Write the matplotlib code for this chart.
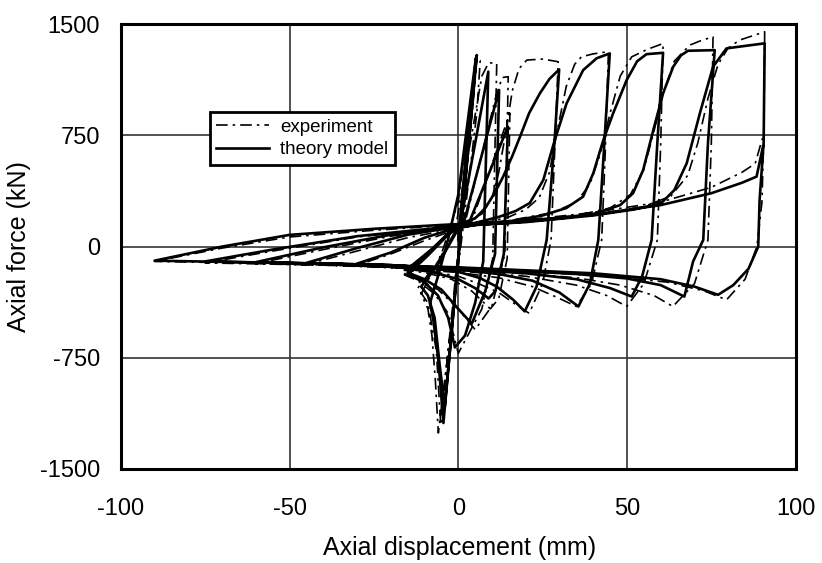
import matplotlib
matplotlib.use('Agg')
import matplotlib.pyplot as plt

plt.rcParams['font.family'] = ['Liberation Sans', 'DejaVu Sans']

# ---------------- theory model (solid), one list pair per loading cycle ----------------
th1_x = [0.0, 2.5, 5.5, -4.4, -5.9, -7.4, -8.4, -6.0, -3.0, 0.0, 5.2, 4.6, -4.0, -5.5, -7.0, -9.0, -11.0]
th1_y = [50, 680, 1292, -1190, -763, -494, -382, -200, 50, 350, 1270, 1080, -1080, -800, -480, -330, -270]
th2_x = [-6.0, -2.0, 0.5, 8.9, 7.4, 5.0, 2.0, -1.0, -3.0, -6.0, -10.0, -15.0]
th2_y = [-120, 40, 140, 1180, -100, -380, -600, -680, -480, -330, -240, -190]
th3_x = [-9.0, -3.0, 1.5, 12.1, 10.9, 8.0, 4.0, 0.0, -5.0, -10.0, -15.0]
th3_y = [-60, 80, 150, 1056, -50, -300, -520, -420, -290, -220, -175]
th4_x = [-8.0, -2.0, 3.0, 14.7, 13.5, 11.0, 9.0, 5.0, 0.0, -8.0, -15.0]
th4_y = [-30, 110, 150, 809, -50, -300, -350, -280, -220, -170, -150]
th5_x = [-8.0, -2.0, 0.0, 5.0, 8.0, 11.0, 13.3, 16.0, 18.3, 21.0, 24.2, 27.0, 29.9,
         28.5, 26.2, 23.2, 19.7, 16.3, 11.4, 6.4, 0.0, -10.0, -20.0, -30.0]
th5_y = [-20, 110, 150, 190, 260, 370, 472, 610, 741, 900, 1034, 1130, 1195,
         700, 45, -270, -437, -359, -270, -212, -170, -140, -125, -115]
th6_x = [-20.0, -10.0, 0.0, 5.0, 12.0, 17.0, 21.2, 25.2, 28.6, 32.1, 37.0, 41.0, 44.9,
         43.3, 41.5, 39.0, 35.6, 30.0, 22.0, 12.0, 0.0, -20.0, -45.0]
th6_y = [-40, 60, 130, 160, 200, 240, 294, 449, 719, 966, 1190, 1270, 1303,
         700, 45, -250, -404, -310, -230, -185, -155, -125, -110]
th7_x = [-30.0, -15.0, 0.0, 15.0, 25.0, 32.0, 37.0, 40.0, 43.0, 45.9, 49.9, 53.0, 55.8, 60.7,
         59.0, 57.3, 54.5, 51.4, 45.0, 35.0, 20.0, 0.0, -30.0, -60.0]
th7_y = [-10, 80, 135, 170, 210, 260, 337, 494, 719, 899, 1123, 1250, 1298, 1307,
         700, 45, -200, -337, -280, -220, -180, -150, -120, -105]
th8_x = [-40.0, -20.0, 0.0, 15.0, 30.0, 40.0, 48.0, 51.8, 54.8, 57.8, 60.7, 63.7, 66.0, 68.1, 76.0,
         74.0, 72.6, 69.6, 67.0, 60.0, 50.0, 35.0, 15.0, 0.0, -40.0, -75.0]
th8_y = [-5, 80, 140, 160, 190, 220, 280, 360, 517, 786, 1034, 1213, 1290, 1321, 1325,
         700, 45, -100, -337, -260, -215, -185, -160, -145, -115, -100]
th9_x = [-55.0, -30.0, 0.0, 20.0, 40.0, 52.0, 60.0, 64.0, 67.7, 71.6, 75.5, 79.5, 90.8,
         90.5, 89.3, 88.9, 86.0, 81.5, 77.0, 70.0, 60.0, 40.0, 20.0, 0.0, -40.0, -90.0]
th9_y = [-20, 70, 140, 165, 210, 250, 290, 380, 562, 899, 1213, 1337, 1371,
         700, 314, 0, -150, -260, -325, -270, -220, -180, -160, -140, -115, -95]
th10_x = [-70.0, -50.0, -25.0, -5.0, 20.0, 40.0, 60.0, 75.0, 84.0, 88.4, 90.3]
th10_y = [0, 79, 120, 146, 175, 215, 280, 360, 430, 472, 674]

# ---------------- experiment (dash-dot), one list pair per loading cycle ----------------
ex1_x = [0.0, 2.5, 5.3, 6.5, 5.5, -5.9, -6.8, -7.8, -9.0, -11.0, -5.0, 0.0, 5.0, 4.5, -5.2, -6.5, -9.0, -12.0]
ex1_y = [30, 650, 1250, 1255, 900, -1257, -900, -600, -420, -320, -50, 300, 1230, 1000, -1200, -700, -380, -280]
ex2_x = [-6.0, -1.0, 7.0, 9.0, 11.4, 10.2, 7.0, 0.0, -3.0, -7.0, -12.0, -16.0]
ex2_y = [-100, 100, 1150, 1240, 1236, -80, -420, -720, -450, -320, -230, -190]
ex3_x = [-10.0, -3.0, 2.0, 11.0, 13.0, 14.8, 13.8, 10.0, 5.0, 0.0, -6.0, -12.0, -16.0]
ex3_y = [-80, 90, 160, 1000, 1140, 1146, -50, -400, -560, -420, -290, -220, -180]
ex4_x = [-9.0, -2.0, 4.0, 15.3, 14.5, 12.0, 9.5, 4.0, -2.0, -10.0, -16.0]
ex4_y = [-40, 110, 170, 900, -80, -350, -420, -300, -220, -175, -160]
ex5_x = [-8.0, -2.0, 2.0, 7.0, 10.0, 12.0, 14.3, 16.0, 18.0, 20.3, 25.0, 29.6,
         28.5, 27.5, 25.0, 21.0, 17.0, 12.0, 6.0, 0.0, -10.0, -20.0, -30.0]
ex5_y = [-30, 100, 160, 220, 330, 500, 800, 1050, 1200, 1258, 1265, 1247,
         600, 45, -250, -450, -390, -310, -250, -200, -160, -135, -125]
ex6_x = [-20.0, -10.0, 0.0, 8.0, 15.0, 20.0, 24.0, 27.0, 29.5, 32.0, 34.5, 36.5, 40.0, 44.5,
         43.5, 42.5, 39.5, 35.0, 30.0, 22.0, 12.0, 0.0, -20.0, -45.0]
ex6_y = [-50, 40, 120, 160, 200, 250, 330, 500, 800, 1080, 1230, 1280, 1300, 1315,
         600, 45, -250, -404, -350, -270, -210, -175, -140, -120]
ex7_x = [-30.0, -15.0, 0.0, 15.0, 28.0, 35.0, 39.0, 42.0, 45.0, 48.0, 51.4, 56.0, 60.7,
         60.0, 59.0, 55.0, 49.9, 44.0, 35.0, 20.0, 0.0, -30.0, -60.0]
ex7_y = [-30, 60, 125, 175, 230, 300, 420, 620, 900, 1150, 1280, 1330, 1370,
         700, 45, -250, -404, -330, -260, -200, -165, -130, -115]
ex8_x = [-40.0, -20.0, 0.0, 20.0, 35.0, 45.0, 51.0, 55.0, 58.0, 61.0, 64.0, 68.6, 72.0, 75.5,
         75.0, 74.0, 70.0, 63.6, 58.0, 48.0, 35.0, 15.0, 0.0, -40.0, -75.0]
ex8_y = [-20, 70, 130, 175, 210, 260, 350, 520, 780, 1050, 1250, 1359, 1390, 1415,
         700, 45, -250, -404, -330, -260, -210, -175, -160, -125, -110]
ex9_x = [-55.0, -30.0, 0.0, 20.0, 40.0, 55.0, 63.0, 68.0, 71.0, 74.0, 77.0, 80.0, 83.4, 87.0, 90.8,
         90.6, 90.0, 88.5, 85.0, 79.5, 73.0, 62.0, 45.0, 25.0, 0.0, -40.0, -90.0]
ex9_y = [-30, 65, 135, 170, 215, 270, 340, 480, 700, 1000, 1230, 1340, 1393, 1420, 1449,
         800, 300, 0, -220, -359, -300, -240, -200, -175, -155, -120, -100]
ex10_x = [-70.0, -50.0, -25.0, -5.0, 20.0, 40.0, 60.0, 75.0, 84.0, 88.0, 90.0, 91.0]
ex10_y = [-10, 65, 110, 140, 180, 230, 300, 400, 500, 560, 720, 760]

theory_x = th1_x + th2_x + th3_x + th4_x + th5_x + th6_x + th7_x + th8_x + th9_x + th10_x
theory_y = th1_y + th2_y + th3_y + th4_y + th5_y + th6_y + th7_y + th8_y + th9_y + th10_y
exp_x = ex1_x + ex2_x + ex3_x + ex4_x + ex5_x + ex6_x + ex7_x + ex8_x + ex9_x + ex10_x
exp_y = ex1_y + ex2_y + ex3_y + ex4_y + ex5_y + ex6_y + ex7_y + ex8_y + ex9_y + ex10_y

x_ticks = [-100, -50, 0, 50, 100]
y_ticks = [-1500, -750, 0, 750, 1500]

fig = plt.figure(figsize=(8.22, 5.63), dpi=100)
ax = fig.add_axes([0.147, 0.167, 0.821, 0.790])

ax.plot(exp_x, exp_y, color='black', lw=1.2, ls=(0, (7, 3, 1.5, 3)), label='experiment', zorder=3)
ax.plot(theory_x, theory_y, color='black', lw=1.9, solid_joinstyle='round', label='theory model', zorder=4)

ax.set_xlim(-100, 100)
ax.set_ylim(-1500, 1500)
ax.set_xticks(x_ticks)
ax.set_yticks(y_ticks)
ax.set_xticklabels([str(v) for v in x_ticks])
ax.set_yticklabels([str(v) for v in y_ticks])
ax.tick_params(axis='both', length=0, labelsize=17)
ax.tick_params(axis='y', pad=15)
ax.tick_params(axis='x', pad=21)
ax.grid(True, color='#333333', lw=1.2)
ax.set_axisbelow(True)
for s in ax.spines.values():
    s.set_linewidth(2.2)
    s.set_color('black')

ax.set_xlabel('Axial displacement (mm)', fontsize=18)
ax.set_ylabel('Axial force (kN)', fontsize=18)
ax.xaxis.set_label_coords(0.502, -0.150)
ax.yaxis.set_label_coords(-0.133, 0.5)

leg = ax.legend(loc='upper left', bbox_to_anchor=(0.132, 0.803), borderaxespad=0,
                fontsize=13.5, frameon=True, fancybox=False, shadow=False, framealpha=1,
                edgecolor='black', handlelength=2.8, handletextpad=0.6,
                borderpad=0.35, labelspacing=0.3)
leg.get_frame().set_linewidth(2.0)

fig.savefig('out.png', dpi=100)
